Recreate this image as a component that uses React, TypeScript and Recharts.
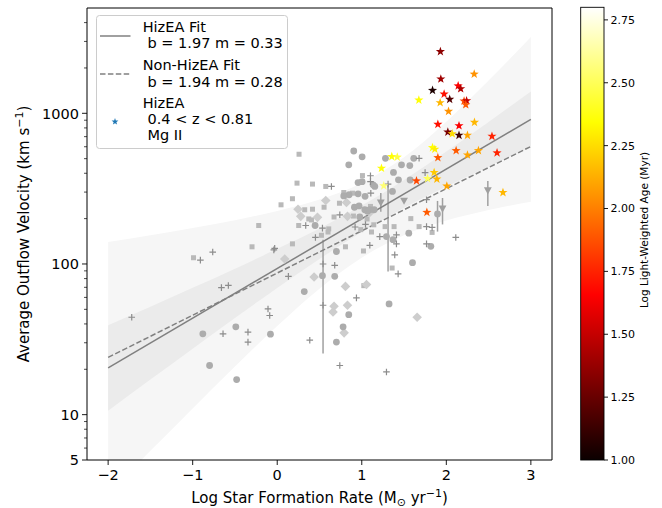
import React from 'react';
import { ComposedChart, XAxis, YAxis, Scatter, Line, Area, ReferenceArea, ReferenceLine } from 'recharts';

const FONT = "'DejaVu Sans', sans-serif";

// Comparison samples: log SFR (x) vs average outflow velocity in km/s (v)
const circleSample = [
  { x: -0.88, v: 34.4 }, { x: -0.49, v: 38.3 }, { x: -0.8, v: 21.2 }, { x: -0.48, v: 17.1 },
  { x: -0.08, v: 34.2 }, { x: 0.32, v: 65.6 }, { x: 0.535, v: 83.6 }, { x: 0.68, v: 82.8 },
  { x: 0.905, v: 562 }, { x: 1.004, v: 514 }, { x: 0.846, v: 455 }, { x: 1.375, v: 405 },
  { x: 1.434, v: 362 }, { x: 1.572, v: 361 }, { x: 0.956, v: 347 }, { x: 1.004, v: 352 },
  { x: 1.154, v: 327 }, { x: 1.134, v: 335 }, { x: 0.85, v: 288 }, { x: 0.956, v: 292 },
  { x: 1.039, v: 281 }, { x: 1.363, v: 303 }, { x: 0.787, v: 283 }, { x: 0.913, v: 238 },
  { x: 0.968, v: 243 }, { x: 1.036, v: 229 }, { x: 1.068, v: 224 }, { x: 1.095, v: 229 },
  { x: 1.146, v: 229 }, { x: 0.976, v: 205 }, { x: 0.448, v: 180 }, { x: 1.292, v: 152 },
  { x: 0.7, v: 121 }, { x: 1.28, v: 503 }, { x: 1.568, v: 450 }, { x: 1.47, v: 455 },
  { x: 1.615, v: 503 }, { x: 1.556, v: 160 }, { x: 1.896, v: 215 }, { x: 1.817, v: 131 },
  { x: 1.6, v: 102 }, { x: 1.323, v: 54.3 }, { x: 0.846, v: 46.1 }, { x: 0.779, v: 38.3 },
  { x: 0.7, v: 30.3 }, { x: 1.37, v: 145 },
];

const squareSample = [
  { x: -0.99, v: 110 }, { x: 0.258, v: 535 }, { x: 0.234, v: 344 }, { x: 0.417, v: 339 },
  { x: 0.574, v: 327 }, { x: 0.18, v: 271 }, { x: 0.045, v: 247 }, { x: 0.325, v: 229 },
  { x: 0.417, v: 231 }, { x: 0.554, v: 238 }, { x: 0.373, v: 199 }, { x: 0.405, v: 196 },
  { x: 0.254, v: 180 }, { x: 0.609, v: 171 }, { x: -0.219, v: 180 }, { x: 0.18, v: 136 },
  { x: -0.298, v: 130 }, { x: 0.787, v: 298 }, { x: 0.89, v: 295 }, { x: 1.103, v: 241 },
  { x: 0.736, v: 253 }, { x: 0.672, v: 205 }, { x: 0.901, v: 208 }, { x: 1.063, v: 199 },
  { x: 0.523, v: 155 }, { x: 0.601, v: 163 }, { x: 0.988, v: 169 }, { x: 1.142, v: 182 },
  { x: 1.115, v: 163 }, { x: 1.276, v: 177 }, { x: 1.382, v: 177 }, { x: 0.807, v: 130 },
  { x: 1.02, v: 122 }, { x: 1.008, v: 386 }, { x: 1.58, v: 200 }, { x: 1.678, v: 177 },
  { x: 1.832, v: 162 }, { x: 1.359, v: 94 }, { x: 1.024, v: 71.8 },
];

const plusSample = [
  { x: -0.909, v: 106 }, { x: -0.763, v: 120 }, { x: -0.66, v: 69.7 }, { x: -0.578, v: 72 },
  { x: -1.721, v: 44.3 }, { x: -0.641, v: 34.4 }, { x: -0.346, v: 35.3 }, { x: -0.346, v: 30.3 },
  { x: -0.109, v: 50.3 }, { x: -0.089, v: 45.5 }, { x: -0.04, v: 124 }, { x: 0.132, v: 82.8 },
  { x: 0.641, v: 327 }, { x: 0.337, v: 180 }, { x: 0.535, v: 173 }, { x: 0.452, v: 150 },
  { x: -0.03, v: 127 }, { x: 1.103, v: 385 }, { x: 1.103, v: 352 }, { x: 1.107, v: 295 },
  { x: 0.74, v: 212 }, { x: 0.921, v: 176 }, { x: 1.044, v: 183 }, { x: 1.213, v: 152 },
  { x: 1.311, v: 339 }, { x: 1.095, v: 133 }, { x: 0.68, v: 98 }, { x: 1.39, v: 115 },
  { x: 1.678, v: 503 }, { x: 1.749, v: 404 }, { x: 1.766, v: 267 }, { x: 1.766, v: 136 },
  { x: 1.766, v: 177 }, { x: 1.832, v: 175 }, { x: 2.112, v: 150 }, { x: 1.43, v: 86 },
  { x: 0.937, v: 59.6 }, { x: 0.74, v: 21.2 }, { x: 1.292, v: 19.2 }, { x: 0.542, v: 100 },
  { x: 0.542, v: 53.2 }, { x: 0.385, v: 31.2 }, { x: 1.41, v: 156 }, { x: 1.41, v: 136 },
];

const diamondSample = [
  { x: 0.089, v: 108 }, { x: 0.436, v: 82 }, { x: 0.574, v: 264 }, { x: 0.246, v: 231 },
  { x: 0.278, v: 207 }, { x: 0.476, v: 204 }, { x: 0.819, v: 256 }, { x: 0.831, v: 207 },
  { x: 1.095, v: 220 }, { x: 0.807, v: 71 }, { x: 1.056, v: 73 }, { x: 0.672, v: 52.4 },
  { x: 0.66, v: 48 }, { x: 0.831, v: 53.2 }, { x: 0.791, v: 34.9 }, { x: 1.655, v: 44.3 },
];

const limitSample = [
  { x: 1.225, v: 255 }, { x: 1.5, v: 262 }, { x: 1.955, v: 232 }, { x: 2.491, v: 307 },
];

// Velocity ranges drawn as vertical bars
const velocitySpans = [
  { x: 0.542, lo: 25.5, hi: 145 },
  { x: 1.311, lo: 89, hi: 335 },
  { x: 1.896, lo: 164, hi: 262 },
  { x: 1.955, lo: 183, hi: 274 },
  { x: 2.491, lo: 243, hi: 356 },
  { x: 1.225, lo: 222, hi: 296 },
];

// HizEA galaxies, coloured by log light-weighted age (Myr)
const hizeaStars = [
  { x: 1.93, v: 2570, age: 1.35 }, { x: 2.33, v: 1820, age: 2.05 }, { x: 1.935, v: 1690, age: 1.4 },
  { x: 2.14, v: 1520, age: 1.65 }, { x: 2.17, v: 1456, age: 1.45 }, { x: 1.837, v: 1420, age: 1.05 },
  { x: 1.974, v: 1342, age: 1.7 }, { x: 1.675, v: 1225, age: 2.35 }, { x: 1.927, v: 1176, age: 2.15 },
  { x: 2.04, v: 1238, age: 1.2 }, { x: 2.21, v: 1206, age: 1.85 }, { x: 2.24, v: 1212, age: 1.5 },
  { x: 2.23, v: 1140, age: 1.9 }, { x: 2.026, v: 1031, age: 2.05 }, { x: 1.9, v: 845, age: 1.7 },
  { x: 2.333, v: 871, age: 2.15 }, { x: 2.15, v: 827, age: 1.65 }, { x: 2.018, v: 751, age: 1.3 },
  { x: 2.07, v: 732, age: 2.25 }, { x: 2.15, v: 715, age: 1.15 }, { x: 2.25, v: 715, age: 2.1 },
  { x: 2.54, v: 704, age: 1.75 }, { x: 1.837, v: 592, age: 2.35 }, { x: 1.864, v: 578, age: 2.3 },
  { x: 1.9, v: 508, age: 1.9 }, { x: 2.116, v: 565, age: 1.9 }, { x: 2.25, v: 529, age: 2.1 },
  { x: 2.38, v: 565, age: 2.1 }, { x: 2.6, v: 546, age: 1.75 }, { x: 1.647, v: 356, age: 1.85 },
  { x: 1.856, v: 405, age: 2.2 }, { x: 1.888, v: 366, age: 2.15 }, { x: 2.006, v: 329, age: 2.1 },
  { x: 2.67, v: 298, age: 2.15 }, { x: 1.778, v: 369, age: 2.5 }, { x: 1.355, v: 516, age: 2.35 },
  { x: 1.42, v: 512, age: 2.45 }, { x: 1.233, v: 432, age: 2.35 }, { x: 1.26, v: 330, age: 2.55 },
  { x: 1.77, v: 220, age: 1.9 },
];

// Confidence envelopes around the HizEA fit
const bandX = [-2, -1.5, -1, -0.5, 0, 0.5, 1, 1.5, 2, 2.5, 3];
const outerLo = [2.98, 5.75, 11.0, 20.9, 38.7, 68.5, 110, 155, 194, 228, 259];
const outerHi = [140, 155, 173, 195, 225, 268, 345, 510, 880, 1650, 3215];
const innerLo = [10.6, 17.1, 27.4, 43.8, 69.3, 108, 163, 236, 327, 444, 596];
const innerHi = [39.2, 52.1, 69.5, 93.1, 126, 172, 244, 361, 557, 877, 1396];

const hizeaFit = { b: 1.97, m: 0.33 };
const nonHizeaFit = { b: 1.94, m: 0.28 };
const fitRange = [-2, 3];

const xTicks = [-2, -1, 0, 1, 2, 3];
const yMajor = [5, 10, 100, 1000];
const yMinor = [6, 7, 8, 9, 20, 30, 40, 50, 60, 70, 80, 90, 200, 300, 400, 500, 600, 700, 800, 900, 2000, 3000, 4000];
const cbarTicks = [1.0, 1.25, 1.5, 1.75, 2.0, 2.25, 2.5, 2.75];
const AGE_MIN = 1.0;
const AGE_MAX = 2.8;

const bandData = bandX.map((x, i) => ({ x, outer: [outerLo[i], outerHi[i]], inner: [innerLo[i], innerHi[i]] }));
const fitLine = (f: { b: number; m: number }) => fitRange.map((x) => ({ x, v: Math.pow(10, f.b + f.m * x) }));

// matplotlib "hot" colormap
const hot = (t: number) => {
  const c = Math.max(0, Math.min(1, t));
  const r = c < 0.365079 ? 0.0416 + ((1 - 0.0416) * c) / 0.365079 : 1;
  const g = c < 0.365079 ? 0 : c < 0.746032 ? (c - 0.365079) / (0.746032 - 0.365079) : 1;
  const b = c < 0.746032 ? 0 : (c - 0.746032) / (1 - 0.746032);
  return `rgb(${Math.round(r * 255)},${Math.round(g * 255)},${Math.round(b * 255)})`;
};
const ageColor = (age: number) => hot((age - AGE_MIN) / (AGE_MAX - AGE_MIN));

const starPath = (cx: number, cy: number, R: number) => {
  let d = '';
  for (let i = 0; i < 10; i++) {
    const r = i % 2 === 0 ? R : R * 0.4;
    const a = -Math.PI / 2 + (i * Math.PI) / 5;
    d += (i ? 'L' : 'M') + (cx + r * Math.cos(a)).toFixed(2) + ',' + (cy + r * Math.sin(a)).toFixed(2);
  }
  return d + 'Z';
};

const CircleMark = (p: any) => <circle cx={p.cx} cy={p.cy} r={3.4} fill="#acacac" />;
const SquareMark = (p: any) => <rect x={p.cx - 2.5} y={p.cy - 2.5} width={5} height={5} fill="#b9b9b9" />;
const PlusMark = (p: any) => (
  <path d={`M${p.cx - 3.3},${p.cy}H${p.cx + 3.3}M${p.cx},${p.cy - 3.3}V${p.cy + 3.3}`} stroke="#8c8c8c" strokeWidth={1.2} fill="none" />
);
const DiamondMark = (p: any) => (
  <polygon points={`${p.cx},${p.cy - 4.8} ${p.cx + 4.8},${p.cy} ${p.cx},${p.cy + 4.8} ${p.cx - 4.8},${p.cy}`} fill="#cdcdcd" />
);
const TriangleMark = (p: any) => (
  <polygon points={`${p.cx - 3.9},${p.cy - 3.3} ${p.cx + 3.9},${p.cy - 3.3} ${p.cx},${p.cy + 3.9}`} fill="#a0a0a0" />
);
const StarMark = (p: any) => <path d={starPath(p.cx, p.cy, 4.8)} fill={ageColor(p.payload.age)} />;

const fmtX = (v: number) => (v < 0 ? '\u2212' + Math.abs(v) : String(v));

const XTick = (p: any) => (
  <g>
    <line x1={p.x} x2={p.x} y1={p.y} y2={p.y + 5} stroke="#000" strokeWidth={0.9} />
    <text x={p.x} y={p.y + 20} textAnchor="middle" fontFamily={FONT} fontSize={14.5} fill="#000">
      {fmtX(p.payload.value)}
    </text>
  </g>
);

const YTick = (p: any) => {
  const major = yMajor.includes(p.payload.value);
  return (
    <g>
      <line x1={p.x} x2={p.x - (major ? 5 : 3)} y1={p.y} y2={p.y} stroke="#000" strokeWidth={major ? 0.9 : 0.7} />
      {major && (
        <text x={p.x - 8} y={p.y} dy="0.36em" textAnchor="end" fontFamily={FONT} fontSize={14.5} fill="#000">
          {p.payload.value}
        </text>
      )}
    </g>
  );
};

// Colorbar geometry
const CB_LEFT = 580.7;
const CB_RIGHT = 604;
const CB_TOP = 7.3;
const CB_BOTTOM = 460;
const cbY = (v: number) => CB_BOTTOM - ((v - AGE_MIN) / (AGE_MAX - AGE_MIN)) * (CB_BOTTOM - CB_TOP);

const Overlay = () => (
  <svg width={662} height={508} style={{ position: 'absolute', left: 0, top: 0, pointerEvents: 'none' }}>
    <defs>
      <linearGradient id="hotGrad" x1="0" y1="1" x2="0" y2="0">
        <stop offset="0" stopColor={hot(0)} />
        <stop offset="0.365079" stopColor={hot(0.365079)} />
        <stop offset="0.746032" stopColor={hot(0.746032)} />
        <stop offset="1" stopColor={hot(1)} />
      </linearGradient>
    </defs>

    {/* axis titles */}
    <text x={319.5} y={503} textAnchor="middle" fontFamily={FONT} fontSize={15} fill="#000">
      Log Star Formation Rate (M<tspan dy={3} fontSize={11}>⊙</tspan>
      <tspan dy={-3}> yr</tspan>
      <tspan dy={-6} fontSize={11}>−1</tspan>
      <tspan dy={6}>)</tspan>
    </text>
    <text x={28.5} y={234} transform="rotate(-90 28.5 234)" textAnchor="middle" fontFamily={FONT} fontSize={15} fill="#000">
      Average Outflow Velocity (km s<tspan dy={-6} fontSize={11}>−1</tspan>
      <tspan dy={6}>)</tspan>
    </text>

    {/* legend */}
    <rect x={96.5} y={15.5} width={191} height={133} rx={3} fill="#fff" fillOpacity={0.8} stroke="#cccccc" strokeWidth={1} />
    <line x1={100} x2={130.5} y1={36} y2={36} stroke="#808080" strokeWidth={1.5} />
    <line x1={100} x2={130.5} y1={74} y2={74} stroke="#808080" strokeWidth={1.5} strokeDasharray="5.5 2.4" />
    <path d={starPath(115, 121.7, 3.6)} fill="#1f77b4" />
    <g fontFamily={FONT} fontSize={14.5} fill="#000">
      <text x={142.7} y={32.3}>HizEA Fit</text>
      <text x={147.5} y={48.3}>b = {hizeaFit.b.toFixed(2)} m = {hizeaFit.m.toFixed(2)}</text>
      <text x={142.7} y={70}>Non-HizEA Fit</text>
      <text x={147.5} y={86.5}>b = {nonHizeaFit.b.toFixed(2)} m = {nonHizeaFit.m.toFixed(2)}</text>
      <text x={142.7} y={108.3}>HizEA</text>
      <text x={147.5} y={123.8}>0.4 &lt; z &lt; 0.81</text>
      <text x={147.5} y={140}>Mg II</text>
    </g>

    {/* colorbar */}
    <rect x={CB_LEFT} y={CB_TOP} width={CB_RIGHT - CB_LEFT} height={CB_BOTTOM - CB_TOP} fill="url(#hotGrad)" stroke="#000" strokeWidth={0.9} />
    {cbarTicks.map((t) => (
      <g key={t}>
        <line x1={CB_RIGHT} x2={CB_RIGHT + 4} y1={cbY(t)} y2={cbY(t)} stroke="#000" strokeWidth={0.9} />
        <text x={CB_RIGHT + 6.5} y={cbY(t)} dy="0.36em" fontFamily={FONT} fontSize={11} fill="#000">
          {t.toFixed(2)}
        </text>
      </g>
    ))}
    <text x={647.5} y={230} transform="rotate(-90 647.5 230)" textAnchor="middle" fontFamily={FONT} fontSize={10.5} fill="#000">
      Log Light-Weighted Age (Myr)
    </text>
  </svg>
);

export default function App() {
  return (
    <div style={{ position: 'absolute', left: 0, top: 0, width: 662, height: 508, background: '#fff' }}>
      <ComposedChart width={662} height={508} margin={{ top: 8, right: 110, bottom: 18, left: 27 }}>
        <XAxis
          type="number"
          dataKey="x"
          domain={[-2.25, 3.25]}
          allowDataOverflow
          ticks={xTicks}
          interval={0}
          tick={<XTick />}
          tickLine={false}
          tickSize={0}
          tickMargin={0}
          axisLine={false}
          height={30}
        />
        <YAxis
          type="number"
          scale="log"
          domain={[5, 5000]}
          allowDataOverflow
          ticks={[...yMajor, ...yMinor]}
          interval={0}
          tick={<YTick />}
          tickLine={false}
          tickSize={0}
          tickMargin={0}
          axisLine={false}
          width={60}
        />
        <Area data={bandData} dataKey="outer" type="monotone" stroke="none" fill="#f6f6f6" fillOpacity={1} isAnimationActive={false} />
        <Area data={bandData} dataKey="inner" type="monotone" stroke="none" fill="#ebebeb" fillOpacity={1} isAnimationActive={false} />
        {velocitySpans.map((s, i) => (
          <ReferenceLine key={i} segment={[{ x: s.x, y: s.lo }, { x: s.x, y: s.hi }]} stroke="#a0a0a0" strokeWidth={1.5} />
        ))}
        <Scatter data={squareSample} dataKey="v" shape={SquareMark} isAnimationActive={false} />
        <Scatter data={diamondSample} dataKey="v" shape={DiamondMark} isAnimationActive={false} />
        <Scatter data={circleSample} dataKey="v" shape={CircleMark} isAnimationActive={false} />
        <Scatter data={plusSample} dataKey="v" shape={PlusMark} isAnimationActive={false} />
        <Scatter data={limitSample} dataKey="v" shape={TriangleMark} isAnimationActive={false} />
        <Line data={fitLine(hizeaFit)} dataKey="v" stroke="#808080" strokeWidth={1.5} dot={false} isAnimationActive={false} />
        <Line data={fitLine(nonHizeaFit)} dataKey="v" stroke="#808080" strokeWidth={1.5} strokeDasharray="5.5 2.4" dot={false} isAnimationActive={false} />
        <Scatter data={hizeaStars} dataKey="v" shape={StarMark} isAnimationActive={false} />
        <ReferenceArea x1={-2.25} x2={3.25} y1={5} y2={5000} fill="none" fillOpacity={0} stroke="#000" strokeWidth={1} ifOverflow="visible" />
      </ComposedChart>
      <Overlay />
    </div>
  );
}
